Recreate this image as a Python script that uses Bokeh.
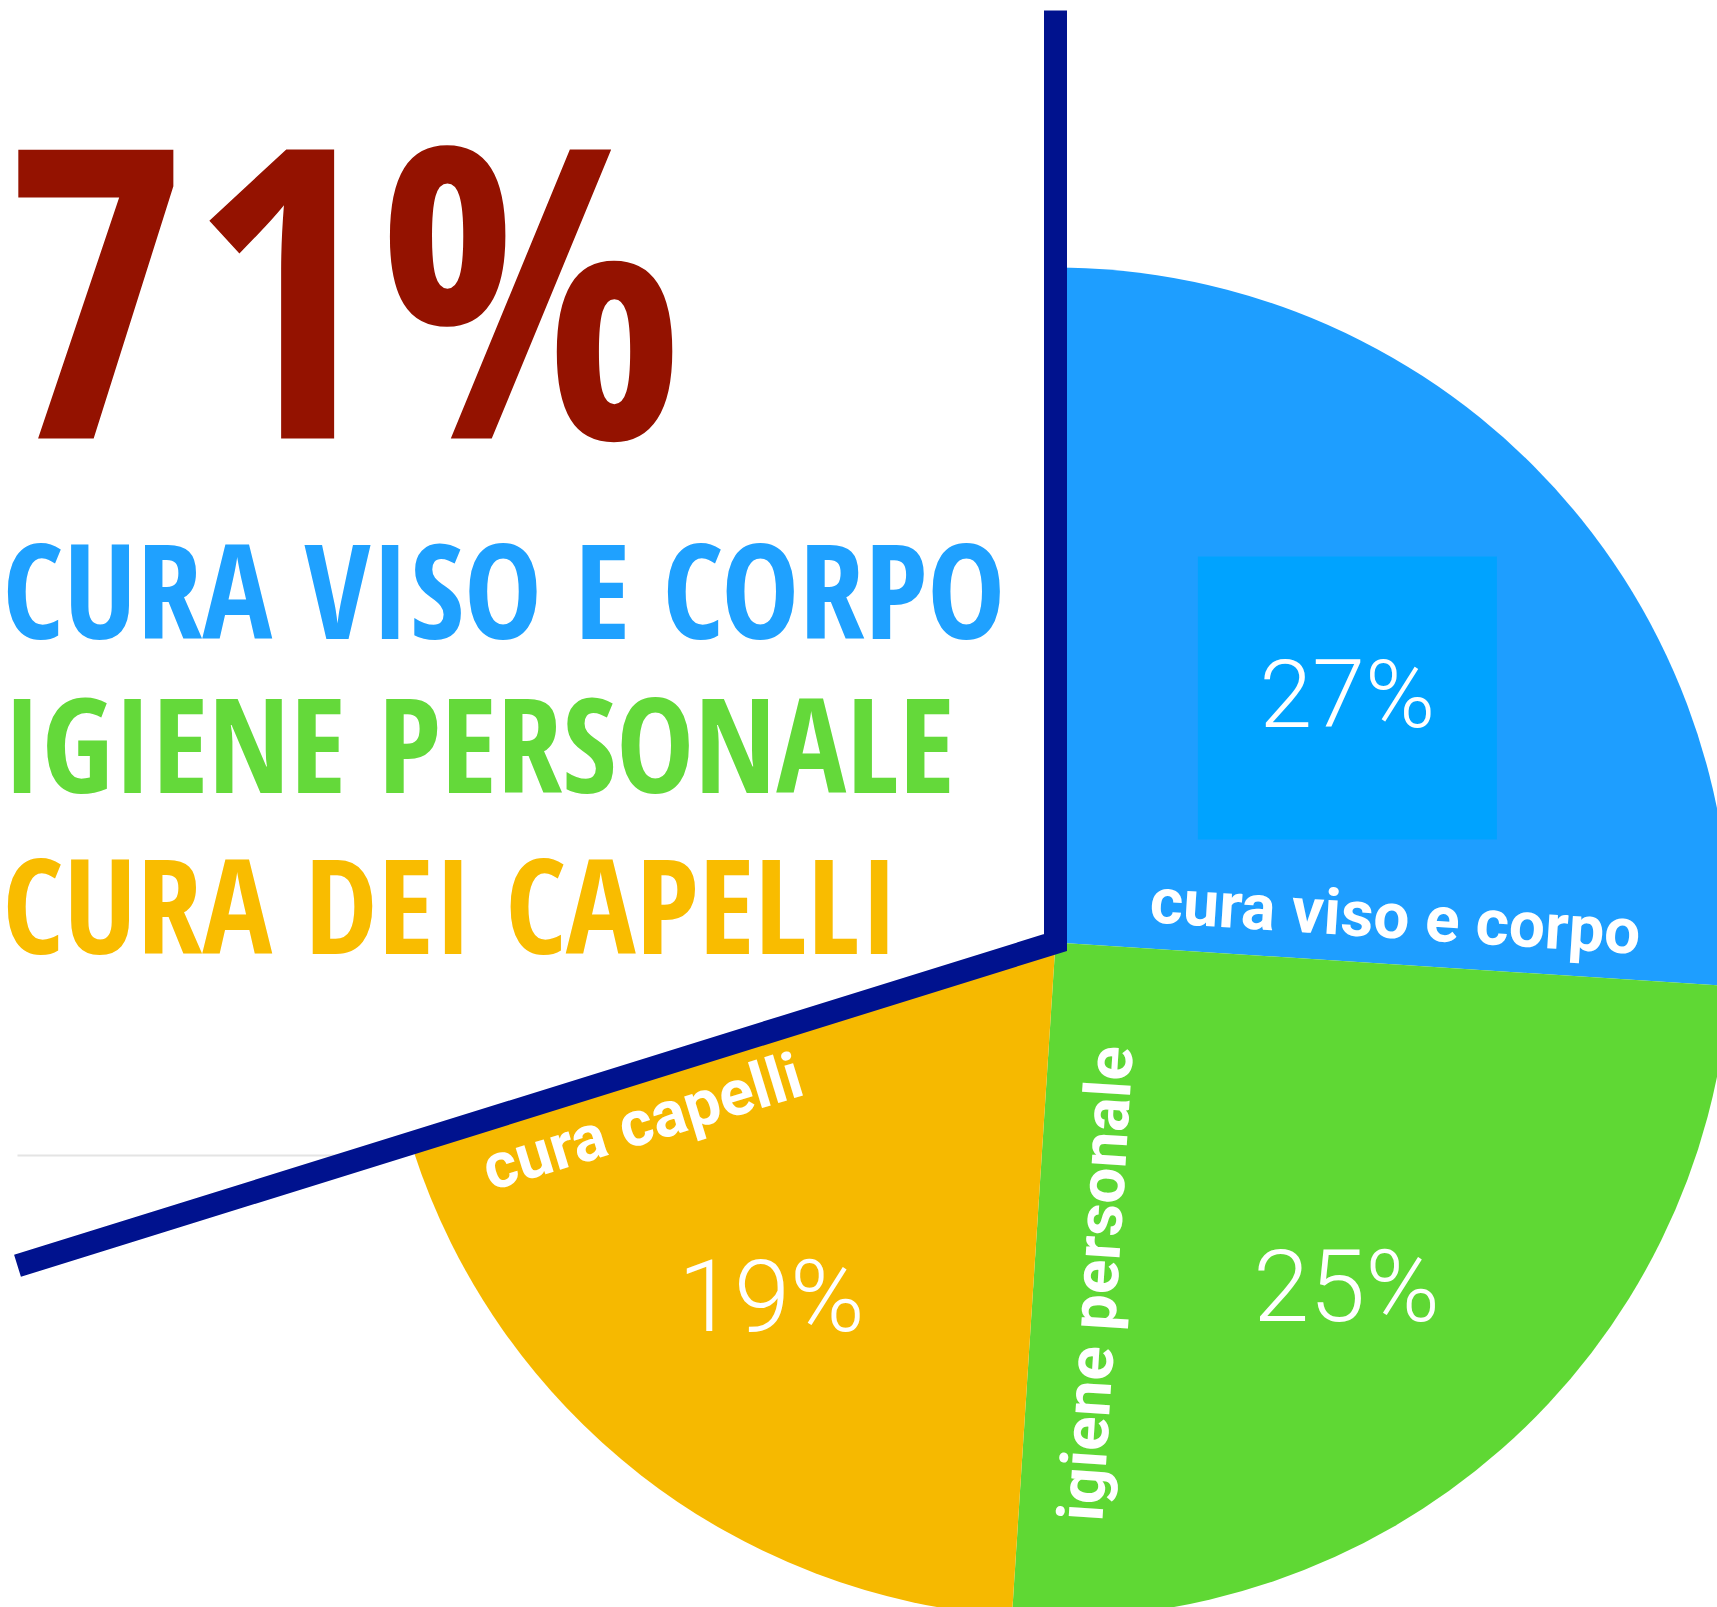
import numpy as np
from bokeh.plotting import figure
from bokeh.models import Range1d, ColumnDataSource
from bokeh.core.properties import value
from bokeh.embed import file_html
from bokeh.resources import INLINE

# ---------------- data ----------------
categories = ["cura viso e corpo", "igiene personale", "cura capelli"]
values = [27, 25, 19]
pct_labels = ["27%", "25%", "19%"]
headline = "71%"
headline_lines = ["CURA VISO E CORPO", "IGIENE PERSONALE", "CURA DEI CAPELLI"]

# ---------------- styles / layout ----------------
W, H = 1717, 1607
slice_colors = ["#1E9EFF", "#5FD834", "#F6B900"]
line_colors = ["#1FA1FF", "#64D93A", "#F9BC00"]
headline_color = "#941200"
navy = "#00128E"
box_color = "#00A3FF"
pct_sizes = ["95px", "101px", "101px"]

CX, CY = 1055, H - 942          # pie centre (y up)
R = 675
START = 93.5                    # degrees, slices go clockwise
PANEL_ANGLE = 197.3             # direction of the cover panel's lower edge
BASE_FIX = 0.385                # alphabetic-baseline correction (em)

def sy(y):
    return H - y

p = figure(width=W, height=H, output_backend="svg", toolbar_location=None,
           x_range=Range1d(0, W), y_range=Range1d(0, H),
           x_axis_location=None, y_axis_location=None, min_border=0)
p.grid.visible = False
p.outline_line_color = None
p.background_fill_color = "white"
p.border_fill_color = "white"

# ---------------- pie ----------------
cum = np.cumsum([0] + values)
starts = np.radians(START - cum[:-1] * 3.6)
ends = np.radians(START - cum[1:] * 3.6)
src = ColumnDataSource(dict(start=starts, end=ends, color=slice_colors, cat=categories))
p.wedge(x=CX, y=CY, radius=R, start_angle="start", end_angle="end", direction="clock",
        fill_color="color", line_color=None, source=src)

# percentage labels
mid = (starts + ends) / 2
frac = np.array([0.567, 0.668, 0.672])
shift = np.radians([-4.6, -1.1, -0.9])
lx = CX + frac * R * np.cos(mid + shift)
ly = CY + frac * R * np.sin(mid + shift)

# highlight box behind the first percentage
p.rect(x=float(lx[0]), y=float(ly[0]) - 3, width=299, height=283, fill_color=box_color,
       line_color=None)

pct_src = ColumnDataSource(dict(x=lx.tolist(), y=ly.tolist(), text=pct_labels, size=pct_sizes))
p.text(x="x", y="y", text="text", source=pct_src, text_color="white", text_align="center",
       text_baseline="middle", text_font=value("'Roboto Light', Roboto"),
       text_font_size="size")

# category labels along the slice borders
a_blue = float(ends[0])
a_green = float(ends[1])
a_panel = np.radians(PANEL_ANGLE)
along = [91.7, 575.5, 613.3]
offs = [23.0, 87.3, 72.4]
dirs = [a_blue, a_green, a_panel]
perps = [a_blue + np.pi / 2, a_green + np.pi / 2, a_panel + np.pi / 2]
cat_angles = [a_blue, a_green + np.pi, float(np.radians(17.0))]
cat_size = 64
cx_, cy_ = [], []
for t, o, d, q, ang in zip(along, offs, dirs, perps, cat_angles):
    bx = CX + t * np.cos(d) + o * np.cos(q)
    by = CY + t * np.sin(d) + o * np.sin(q)
    fix = BASE_FIX * cat_size
    cx_.append(float(bx + fix * np.cos(ang + np.pi / 2)))
    cy_.append(float(by + fix * np.sin(ang + np.pi / 2)))
p.text(x=cx_, y=cy_, text=categories, angle=cat_angles, text_color="white",
       text_align="left", text_baseline="alphabetic", text_font=value("Roboto"),
       text_font_style="bold", text_font_size=f"{cat_size}px")

# ---------------- cover panel ----------------
ux, uy = float(np.cos(a_panel)), float(np.sin(a_panel))
t0 = (CX + 20) / -ux
p.patch(x=[CX, CX, CX + t0 * ux, -20], y=[H + 20, CY, CY + t0 * uy, H + 20],
        fill_color="white", line_color=None)
# faint edge of the panel
p.line(x=[17, 372], y=[sy(1155), sy(1155)], line_color="#E4E4E4", line_width=2)
# navy frame
t1 = (CX - 17) / -ux
p.line(x=[CX, CX, CX + t1 * ux], y=[sy(10), CY, CY + t1 * uy], line_color=navy,
       line_width=23, line_join="miter", line_cap="butt")

# ---------------- headline texts ----------------
big = 405
p.text(x=[2], y=[sy(437) + BASE_FIX * big], text=[headline], text_color=headline_color,
       text_font=value("Open Sans Condensed"), text_font_style="bold",
       text_font_size=f"{big}px", text_align="left", text_baseline="alphabetic")
mid_size = 131
bases = [638, 792, 953]
p.text(x=[2, 2, 2], y=[sy(b) + BASE_FIX * mid_size for b in bases], text=headline_lines,
       text_color=line_colors, text_font=value("Open Sans Condensed"),
       text_font_style="bold", text_font_size=f"{mid_size}px", text_align="left",
       text_baseline="alphabetic")

open("out.html", "w").write(file_html(p, INLINE))
